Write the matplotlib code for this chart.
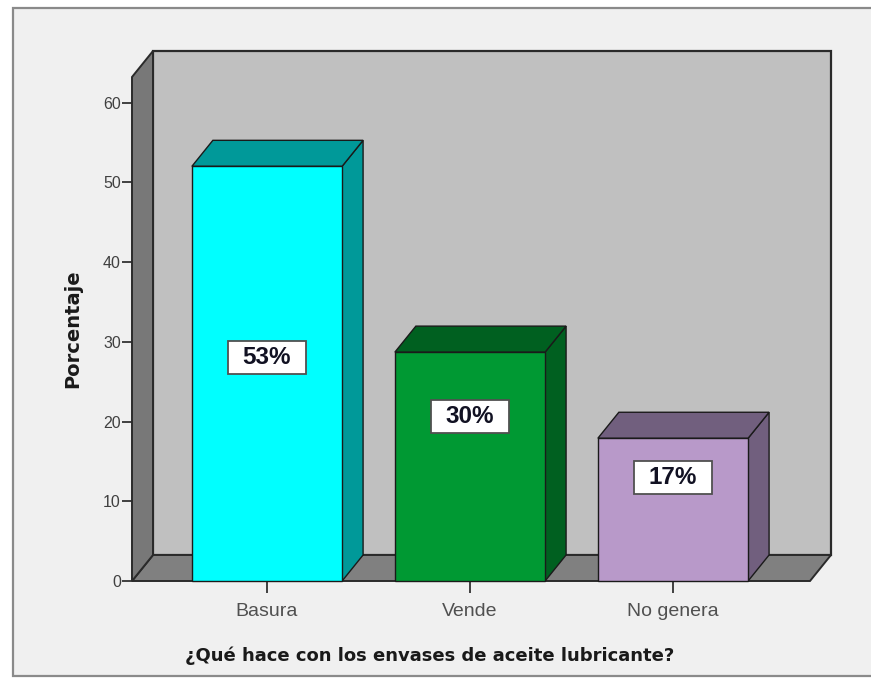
import matplotlib
matplotlib.use("Agg")
import matplotlib.pyplot as plt
from matplotlib.patches import Rectangle, Polygon
from matplotlib import font_manager

# ---- data ----
categories = ["Basura", "Vende", "No genera"]
values = [52.0, 28.7, 17.9]          # bar heights
labels = ["53%", "30%", "17%"]       # printed labels
label_pos = [28.0, 20.6, 13.0]       # label box centres (percent units)
yticks = [0, 10, 20, 30, 40, 50, 60]

front_colors = ["#00ffff", "#009933", "#b899c9"]
side_colors = ["#009999", "#006020", "#715f7e"]

x_title = "¿Qué hace con los envases de aceite lubricante?"
y_title = "Porcentaje"

available = {f.name for f in font_manager.fontManager.ttflist}
label_family = [f for f in ["Liberation Sans Narrow", "DejaVu Sans Condensed"] if f in available]
label_family = (label_family[:1] or []) + ["Liberation Sans"]
narrow = label_family[0] != "Liberation Sans"

W, H = 871, 678
fig = plt.figure(figsize=(W / 100, H / 100), dpi=100)
fig.patch.set_facecolor("white")

# outer frame
fig.add_artist(Rectangle((13 / W, 2 / H), 1.0, (676 - 8) / H, transform=fig.transFigure,
                         facecolor="#f0f0f0", edgecolor="#8a8a8a", lw=1.6, zorder=0))

ax = fig.add_axes([132 / W, 97 / H, 678 / W, 504 / H])
ax.set_xlim(-0.665, 2.675)
ytop = 63.2
ax.set_ylim(0, ytop)
ax.patch.set_visible(False)
for s in ax.spines.values():
    s.set_visible(False)

DX, DY = 0.1034, 3.26
xmin, xmax = ax.get_xlim()
edge = "#2a2a2a"

# back wall
ax.add_patch(Rectangle((xmin + DX, DY), xmax - xmin, ytop, facecolor="#c0c0c0",
                       edgecolor=edge, lw=1.6, clip_on=False, zorder=1))
# floor
ax.add_patch(Polygon([(xmin, 0), (xmax, 0), (xmax + DX, DY), (xmin + DX, DY)], closed=True,
                     facecolor="#808080", edgecolor=edge, lw=1.4, clip_on=False, zorder=2))
# left wall
ax.add_patch(Polygon([(xmin, 0), (xmin + DX, DY), (xmin + DX, ytop + DY), (xmin, ytop)], closed=True,
                     facecolor="#787878", edgecolor=edge, lw=1.4, clip_on=False, zorder=2))

bw = 0.74
xs = list(range(len(categories)))
for i, v in enumerate(values):
    x0, x1 = i - bw / 2, i + bw / 2
    ax.add_patch(Polygon([(x1, 0), (x1 + DX, DY), (x1 + DX, v + DY), (x1, v)], closed=True,
                         facecolor=side_colors[i], edgecolor="#1a1a1a", lw=1.0, clip_on=False, zorder=3))
    ax.add_patch(Polygon([(x0, v), (x1, v), (x1 + DX, v + DY), (x0 + DX, v + DY)], closed=True,
                         facecolor=side_colors[i], edgecolor="#1a1a1a", lw=1.0, clip_on=False, zorder=3))
ax.bar(xs, values, width=bw, color=front_colors, edgecolor="#1a1a1a", lw=1.0, zorder=4, clip_on=False)

box_w, box_h = 78 / 203, 33 / 7.97
for i, (t, yp) in enumerate(zip(labels, label_pos)):
    ax.add_patch(Rectangle((i - box_w / 2, yp - box_h / 2), box_w, box_h, facecolor="white",
                           edgecolor="#505050", lw=1.3, zorder=6))
    ax.text(i, yp, t, ha="center", va="center", fontsize=19 if narrow else 17.5, fontweight="bold",
            family=label_family, color="#111122", zorder=7)

ax.set_yticks(yticks)
ax.set_yticklabels([str(t) for t in yticks], family="Liberation Sans")
ax.set_xticks(xs)
ax.set_xticklabels(categories, family="Liberation Sans")
ax.tick_params(axis="y", length=7, width=1.4, color="#404040", labelcolor="#404040",
               labelsize=11.5, pad=1)
ax.tick_params(axis="x", length=8.5, width=1.4, color="#404040", labelcolor="#505050",
               labelsize=14, pad=7)

fig.text(430 / W, 1 - 656 / H, x_title, ha="center", va="center", fontsize=13,
         fontweight="bold", family="DejaVu Sans", color="#1a1a1a")
fig.text(73 / W, 1 - 329 / H, y_title, ha="center", va="center", rotation=90, fontsize=14,
         fontweight="bold", family="DejaVu Sans", color="#1a1a1a")

fig.savefig("out.png", dpi=100, facecolor=fig.get_facecolor())
